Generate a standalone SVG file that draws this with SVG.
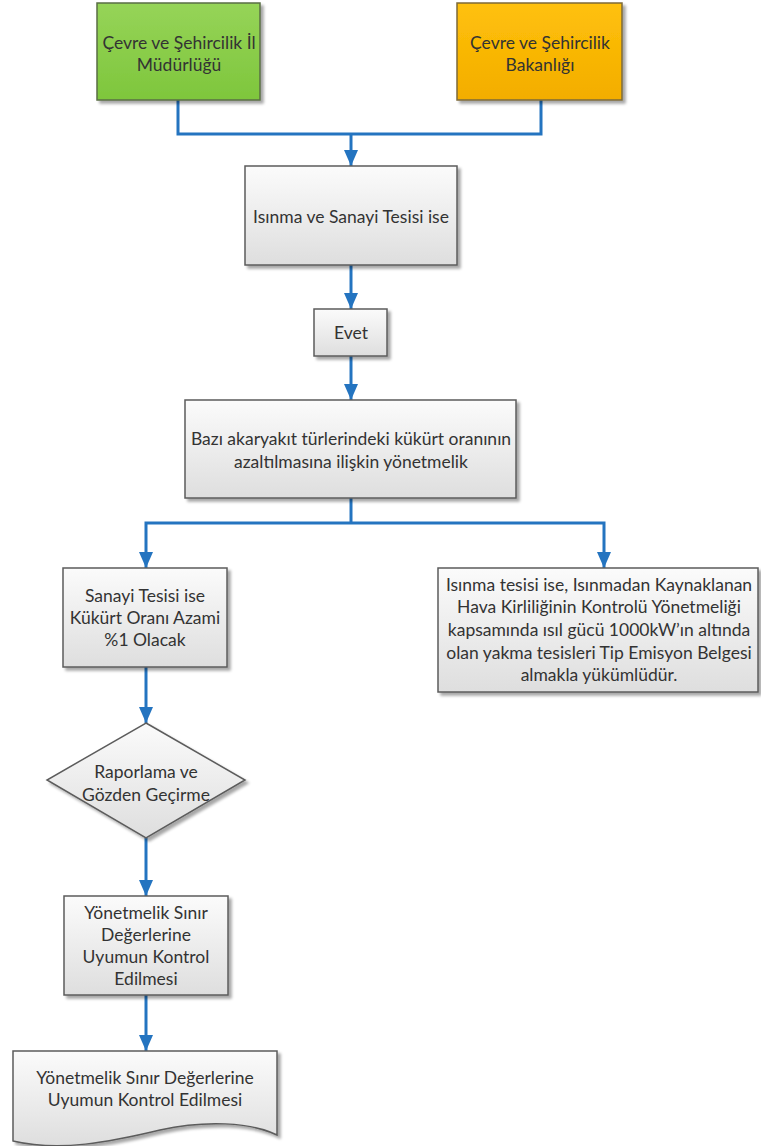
<svg xmlns="http://www.w3.org/2000/svg" width="761" height="1146" viewBox="0 0 761 1146">
<defs>
<linearGradient id="gGray" x1="0" y1="0" x2="0" y2="1">
<stop offset="0" stop-color="#fbfbfb"/><stop offset="1" stop-color="#dedede"/>
</linearGradient>
<linearGradient id="gGreen" x1="0" y1="0" x2="0" y2="1">
<stop offset="0" stop-color="#96d458"/><stop offset="1" stop-color="#7ec63c"/>
</linearGradient>
<linearGradient id="gOrange" x1="0" y1="0" x2="0" y2="1">
<stop offset="0" stop-color="#ffc10a"/><stop offset="1" stop-color="#f3ad00"/>
</linearGradient>
<filter id="sh" x="-10%" y="-10%" width="130%" height="130%">
<feGaussianBlur in="SourceAlpha" stdDeviation="1.6"/>
<feOffset dx="3" dy="3" result="b"/>
<feComponentTransfer><feFuncA type="linear" slope="0.35"/></feComponentTransfer>
<feMerge><feMergeNode/><feMergeNode in="SourceGraphic"/></feMerge>
</filter>
<marker id="arr" viewBox="0 0 16 14" refX="16" refY="7" markerWidth="16" markerHeight="14" markerUnits="userSpaceOnUse" orient="auto">
<path d="M0,0 L16,7 L0,14 Z" fill="#2474c0"/>
</marker>
<style>
.box{fill:url(#gGray);stroke:#5c5c5c;stroke-width:1.5;filter:url(#sh)}
.t{font-family:Lato,"Open Sans","Noto Sans",sans-serif;font-size:17.5px;fill:#333333;text-anchor:middle}
.c{fill:none;stroke:#2474c0;stroke-width:3}
</style>
</defs>
<rect width="761" height="1146" fill="#ffffff"/>

<g id="connectors">
<path class="c" d="M178,100 V134 H541 V100"/>
<path class="c" d="M351,134 V166" marker-end="url(#arr)"/>
<path class="c" d="M351,265 V309" marker-end="url(#arr)"/>
<path class="c" d="M351,356 V400" marker-end="url(#arr)"/>
<path class="c" d="M351,498 V523"/>
<path class="c" d="M351,523 H146 V568" marker-end="url(#arr)"/>
<path class="c" d="M351,523 H604 V568" marker-end="url(#arr)"/>
<path class="c" d="M146,667 V723" marker-end="url(#arr)"/>
<path class="c" d="M146,838 V896" marker-end="url(#arr)"/>
<path class="c" d="M146,995 V1051" marker-end="url(#arr)"/>
</g>

<g id="il-mudurlugu">
<rect x="97" y="3" width="163" height="97" fill="url(#gGreen)" stroke="#5a6e44" stroke-width="1.5" filter="url(#sh)"/>
<text class="t" x="179" y="49">Çevre ve Şehircilik İl</text>
<text class="t" x="179" y="71">Müdürlüğü</text>
</g>

<g id="bakanlik">
<rect x="457" y="3" width="165" height="97" fill="url(#gOrange)" stroke="#7d6a38" stroke-width="1.5" filter="url(#sh)"/>
<text class="t" x="540" y="49">Çevre ve Şehircilik</text>
<text class="t" x="540" y="71">Bakanlığı</text>
</g>

<g id="isinma-sanayi">
<rect class="box" x="245" y="166" width="212" height="99"/>
<text class="t" x="351" y="223">Isınma ve Sanayi Tesisi ise</text>
</g>

<g id="evet">
<rect class="box" x="314" y="309" width="73" height="47"/>
<text class="t" x="351" y="339">Evet</text>
</g>

<g id="yonetmelik-kukurt">
<rect class="box" x="185" y="400" width="331" height="98"/>
<text class="t" x="351" y="445">Bazı akaryakıt türlerindeki kükürt oranının</text>
<text class="t" x="351" y="468">azaltılmasına ilişkin yönetmelik</text>
</g>

<g id="sanayi">
<rect class="box" x="63" y="568" width="164" height="99"/>
<text class="t" x="145" y="602">Sanayi Tesisi ise</text>
<text class="t" x="145" y="624">Kükürt Oranı Azami</text>
<text class="t" x="145" y="646">%1 Olacak</text>
</g>

<g id="isinma-tesisi">
<rect class="box" x="438" y="568" width="320" height="124"/>
<text class="t" x="599" y="591">Isınma tesisi ise, Isınmadan Kaynaklanan</text>
<text class="t" x="599" y="613">Hava Kirliliğinin Kontrolü Yönetmeliği</text>
<text class="t" x="599" y="636">kapsamında ısıl gücü 1000kW’ın altında</text>
<text class="t" x="599" y="659">olan yakma tesisleri Tip Emisyon Belgesi</text>
<text class="t" x="599" y="681">almakla yükümlüdür.</text>
</g>

<g id="raporlama">
<polygon class="box" points="146,723 245,780 146,838 47,780"/>
<text class="t" x="146" y="778">Raporlama ve</text>
<text class="t" x="146" y="801">Gözden Geçirme</text>
</g>

<g id="uyum-kontrol">
<rect class="box" x="64" y="896" width="164" height="99"/>
<text class="t" x="146" y="919">Yönetmelik Sınır</text>
<text class="t" x="146" y="941">Değerlerine</text>
<text class="t" x="146" y="963">Uyumun Kontrol</text>
<text class="t" x="146" y="985">Edilmesi</text>
</g>

<g id="belge">
<path class="box" d="M13,1051 H277 V1135 C250,1122 205,1120 160,1130 C110,1142 60,1152 13,1141 Z"/>
<text class="t" x="145" y="1084">Yönetmelik Sınır Değerlerine</text>
<text class="t" x="145" y="1106">Uyumun Kontrol Edilmesi</text>
</g>
</svg>
